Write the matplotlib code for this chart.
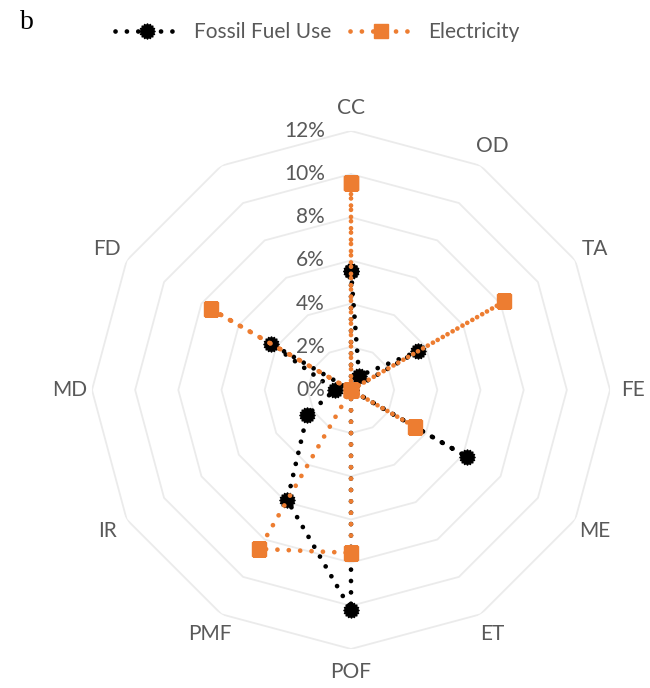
import numpy as np
import matplotlib
matplotlib.use("Agg")
import matplotlib.pyplot as plt
from matplotlib.path import Path
from matplotlib.transforms import offset_copy

# impact categories (last spoke has no label in the original)
categories = ["CC", "OD", "TA", "FE", "ME", "ET", "POF", "PMF", "IR", "MD", "FD", ""]
fossil_fuel = [5.5, 0.75, 3.6, 0.0, 6.2, 0.0, 10.2, 5.9, 2.35, 0.75, 4.3, 0.0]
electricity = [9.6, 0.0, 8.2, 0.0, 3.4, 0.0, 7.55, 8.5, 0.0, 0.0, 7.5, 0.0]
ring_values = [0, 2, 4, 6, 8, 10, 12]
ring_labels = ["0%", "2%", "4%", "6%", "8%", "10%", "12%"]

orange = "#ED7D31"
txt_grey = "#595959"
plt.rcParams["font.family"] = ["Lato", "DejaVu Sans"]

fig = plt.figure(figsize=(6.5, 6.88), dpi=100)
ax = fig.add_axes([0.1415, 0.0567, 0.797, 0.753], projection="polar")
ax.set_theta_zero_location("N")
ax.set_theta_direction(-1)
ax.set_ylim(0, 12)
ax.grid(False)
ax.set_xticks([])
ax.set_yticks([])
ax.spines["polar"].set_visible(False)

n = len(categories)
theta = np.linspace(0, 2 * np.pi, n, endpoint=False)
theta_c = np.append(theta, theta[0])

# polygon grid rings
for r in ring_values[1:]:
    ax.plot(theta_c, [r] * (n + 1), color="#ebebeb", lw=1.3, zorder=0)

# gear-like marker for the black series
ang = np.linspace(0, 2 * np.pi, 33)[:-1]
rad = np.where(np.arange(32) % 2 == 0, 1.0, 0.8)
verts = np.column_stack([rad * np.cos(ang), rad * np.sin(ang)])
gear = Path(np.vstack([verts, verts[:1]]), closed=True)

dots = (0, (0.01, 2.4))
l1, = ax.plot(theta_c, fossil_fuel + fossil_fuel[:1], color="black", lw=3.4,
              linestyle=dots, dash_capstyle="round", marker=gear, markersize=11,
              markerfacecolor="black", markeredgecolor="black", zorder=3)
l2, = ax.plot(theta_c, electricity + electricity[:1], color=orange, lw=3.4,
              linestyle=dots, dash_capstyle="round", marker="s", markersize=9.5,
              markerfacecolor=orange, markeredgecolor=orange, zorder=4)

# category labels
for t, lab in zip(theta, categories):
    ax.text(t, 13.05, lab, ha="center", va="center", fontsize=15, color=txt_grey)

# value labels along the top spoke
trans = offset_copy(ax.transData, fig=fig, x=-26, y=0, units="dots")
for r, lab in zip(ring_values, ring_labels):
    ax.text(0, r, lab, transform=trans, ha="right", va="center", fontsize=15,
            color=txt_grey, zorder=5)

leg = fig.legend([l1, l2], ["Fossil Fuel Use", "Electricity"], loc="center",
                 bbox_to_anchor=(0.488, 0.9535), ncol=2, frameon=False,
                 handlelength=3.0, handletextpad=0.75, columnspacing=0.9,
                 numpoints=1, fontsize=15)
for t in leg.get_texts():
    t.set_color(txt_grey)

fig.text(0.03, 0.967, "b", family="Liberation Serif", fontsize=20, va="center")

fig.savefig("out.png", dpi=100)
